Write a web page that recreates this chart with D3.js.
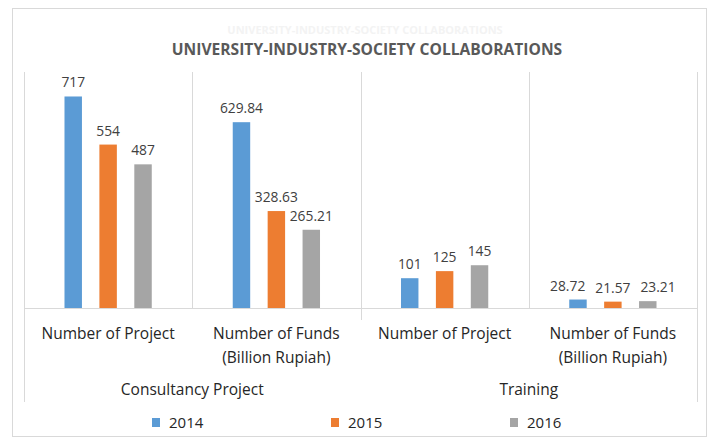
<!DOCTYPE html>
<html>
<head>
<meta charset="utf-8">
<script src="https://cdn.jsdelivr.net/npm/d3@7"></script>
<style>
  body { margin: 0; background: #fff; }
  text { font-family: "Open Sans", sans-serif; }
</style>
</head>
<body>
<svg id="chart" width="713" height="439"></svg>
<script>
// data
const title = 'UNIVERSITY-INDUSTRY-SOCIETY COLLABORATIONS';
const groups = ['Consultancy Project', 'Training'];
const categoryLines = [
  ['Number of Project'],
  ['Number of Funds', '(Billion Rupiah)'],
  ['Number of Project'],
  ['Number of Funds', '(Billion Rupiah)']
];
const categoryGroup = [0, 0, 1, 1];
const years = ['2014', '2015', '2016'];
const values2014 = [717, 629.84, 101, 28.72];
const values2015 = [554, 328.63, 125, 21.57];
const values2016 = [487, 265.21, 145, 23.21];
const colors = ['#5B9BD5', '#ED7D31', '#A5A5A5'];

const series = [values2014, values2015, values2016];

const svg = d3.select('#chart');
const plot = {left: 24, right: 697, top: 72, bottom: 308};

// outer frame
svg.append('rect')
  .attr('x', 12.5).attr('y', 8.5)
  .attr('width', 694).attr('height', 428)
  .attr('fill', 'none')
  .attr('stroke', '#d9d9d9');

// faded ghost of the title above it
svg.append('text')
  .attr('x', 365).attr('y', 34)
  .attr('text-anchor', 'middle')
  .style('font-size', '11px')
  .style('font-weight', 'bold')
  .style('fill', '#f3f3f3')
  .text(title);

svg.append('text')
  .attr('x', 367).attr('y', 55)
  .attr('text-anchor', 'middle')
  .style('font-size', '15.6px')
  .style('font-weight', 'bold')
  .style('fill', '#595959')
  .text(title);

const x0 = d3.scaleBand()
  .domain(d3.range(categoryLines.length))
  .range([plot.left, plot.right]);

const x1 = d3.scaleBand()
  .domain(d3.range(years.length))
  .range([0, x0.bandwidth()])
  .paddingInner(0.5)
  .paddingOuter(1.16);

const y = d3.scaleLinear()
  .domain([0, 800])
  .range([plot.bottom, plot.top]);

// category separators
const grid = svg.append('g').attr('stroke', '#d9d9d9').attr('stroke-width', 1);
d3.range(categoryLines.length + 1).forEach(i => {
  const xi = Math.round(plot.left + i * x0.step()) + 0.5;
  let y2 = plot.bottom;
  if (i === 0 || i === categoryLines.length) {
    y2 = 402;
  } else if (categoryGroup[i] !== categoryGroup[i - 1]) {
    y2 = 320;
  }
  grid.append('line')
    .attr('x1', xi).attr('x2', xi)
    .attr('y1', plot.top).attr('y2', y2);
});
grid.append('line')
  .attr('x1', plot.left).attr('x2', plot.right)
  .attr('y1', plot.bottom + 0.5).attr('y2', plot.bottom + 0.5);

const fmt = v => Number.isInteger(v) ? String(v) : v.toFixed(2);

const labelNodes = d3.range(categoryLines.length).map(() => []);

series.forEach((vals, s) => {
  const g = svg.append('g');
  g.selectAll('rect')
    .data(vals)
    .join('rect')
    .attr('x', (d, i) => x0(i) + x1(s))
    .attr('width', x1.bandwidth())
    .attr('y', d => y(d))
    .attr('height', d => y(0) - y(d))
    .attr('fill', colors[s]);
  g.selectAll('text')
    .data(vals)
    .join('text')
    .attr('x', (d, i) => x0(i) + x1(s) + x1.bandwidth() / 2)
    .attr('y', d => y(d) - 9)
    .attr('text-anchor', 'middle')
    .style('font-size', '13.8px')
    .style('fill', '#404040')
    .text(fmt)
    .each(function(d, i) { labelNodes[i][s] = this; });
});

// push colliding value labels apart, keeping the middle one in place
const gap = 10;
labelNodes.forEach(nodes => {
  const w = nodes.map(n => n.getComputedTextLength());
  const c = nodes.map(n => +n.getAttribute('x'));
  const yy = nodes.map(n => +n.getAttribute('y'));
  const close = (a, b) => Math.abs(yy[a] - yy[b]) < 16;
  if (close(0, 1) && c[0] + w[0] / 2 + gap > c[1] - w[1] / 2) {
    c[0] = c[1] - w[1] / 2 - gap - w[0] / 2;
  }
  if (close(1, 2) && c[2] - w[2] / 2 - gap < c[1] + w[1] / 2) {
    c[2] = c[1] + w[1] / 2 + gap + w[2] / 2;
  }
  nodes.forEach((n, s) => n.setAttribute('x', c[s]));
});

// category labels
const cat = svg.append('g');
categoryLines.forEach((lines, i) => {
  const t = cat.append('text')
    .attr('x', x0(i) + x0.bandwidth() / 2)
    .attr('y', 339)
    .attr('text-anchor', 'middle')
    .style('font-size', '15.5px')
    .style('fill', '#262626');
  lines.forEach((line, k) => {
    t.append('tspan')
      .attr('x', x0(i) + x0.bandwidth() / 2)
      .attr('dy', k === 0 ? 0 : 24)
      .text(line);
  });
});

// group labels
groups.forEach((name, gi) => {
  const idx = d3.range(categoryGroup.length).filter(i => categoryGroup[i] === gi);
  const xa = x0(idx[0]);
  const xb = x0(idx[idx.length - 1]) + x0.bandwidth();
  svg.append('text')
    .attr('x', (xa + xb) / 2)
    .attr('y', 395)
    .attr('text-anchor', 'middle')
    .style('font-size', '15.5px')
    .style('fill', '#262626')
    .text(name);
});

// legend
const lx = d3.scaleBand().domain(years).range([152, 152 + 179 * years.length]);
const legend = svg.append('g');
years.forEach((yr, s) => {
  legend.append('rect')
    .attr('x', lx(yr)).attr('y', 418)
    .attr('width', 8).attr('height', 9)
    .attr('fill', colors[s]);
  legend.append('text')
    .attr('x', lx(yr) + 17).attr('y', 428)
    .style('font-size', '15px')
    .style('fill', '#262626')
    .text(yr);
});
</script>
</body>
</html>
